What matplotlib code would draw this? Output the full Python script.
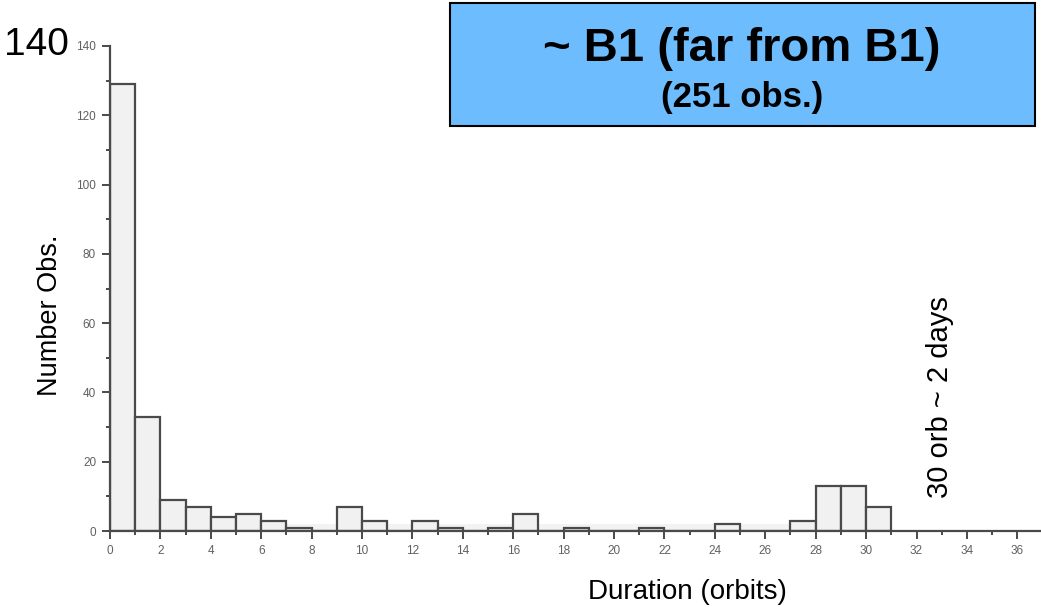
import numpy as np
import matplotlib.pyplot as plt
from matplotlib.patches import FancyBboxPatch
from matplotlib.ticker import MultipleLocator

plt.rcParams['font.family'] = ['Liberation Sans', 'DejaVu Sans']

# Histogram of observation durations, one bin per orbit
bin_edges = np.arange(0, 32)  # 0..31 orbits
counts = [129, 33, 9, 7, 4, 5, 3, 1, 0, 7,
          3, 0, 3, 1, 0, 1, 5, 0, 1, 0,
          0, 1, 0, 0, 2, 0, 0, 3, 13, 13,
          7]
x_ticks = list(range(0, 37, 2))
y_ticks = list(range(0, 141, 20))

fig = plt.figure(figsize=(10.41, 6.07), dpi=100)
ax = fig.add_axes([110 / 1041, 76 / 607, 930 / 1041, 485 / 607])

# faint background band along the baseline
ax.fill_between([3.5, 28], 0, 2, color='#f3f3f3', lw=0, zorder=0)

ax.bar(bin_edges[:-1], counts, width=1.0, align='edge',
       color='#f1f1f1', edgecolor='#4a4a4a', linewidth=1.6, zorder=2)

ax.set_xlim(0, 36.9)
ax.set_ylim(0, 140)
ax.set_xticks(x_ticks)
ax.set_yticks(y_ticks)
ax.xaxis.set_minor_locator(MultipleLocator(1))
ax.yaxis.set_minor_locator(MultipleLocator(10))
ax.tick_params(which='major', length=6, width=1.4, color='#4a4a4a',
               labelsize=8.5, labelcolor='#606060', pad=4)
ax.tick_params(which='minor', length=3, width=1.4, color='#4a4a4a')
for side in ('top', 'right'):
    ax.spines[side].set_visible(False)
for side in ('left', 'bottom'):
    ax.spines[side].set_color('#4a4a4a')
    ax.spines[side].set_linewidth(1.6)
ax.spines['bottom'].set_zorder(3)

# axis titles and annotations
fig.text(687 / 1041, 1 - 592 / 607, 'Duration (orbits)', fontsize=20,
         ha='center', va='center')
fig.text(50 / 1041, 1 - 315 / 607, 'Number Obs.', fontsize=19.5,
         rotation=90, ha='center', va='center')
fig.text(36 / 1041, 1 - 45 / 607, '140', fontsize=28,
         ha='center', va='center')
fig.text(940 / 1041, 1 - 397 / 607, '30 orb ~ 2 days', fontsize=21,
         rotation=90, ha='center', va='center')

# title box
box = FancyBboxPatch((450 / 1041, 1 - 126 / 607), 585 / 1041, 123 / 607,
                     boxstyle='square,pad=0', transform=fig.transFigure,
                     facecolor='#6cbcfe', edgecolor='black', linewidth=1.5)
fig.patches.append(box)
fig.text(742 / 1041, 1 - 49 / 607, '~ B1 (far from B1)', fontsize=34,
         fontweight='bold', ha='center', va='center')
fig.text(742 / 1041, 1 - 98 / 607, '(251 obs.)', fontsize=25,
         fontweight='bold', ha='center', va='center')

fig.savefig('out.png', dpi=100)
